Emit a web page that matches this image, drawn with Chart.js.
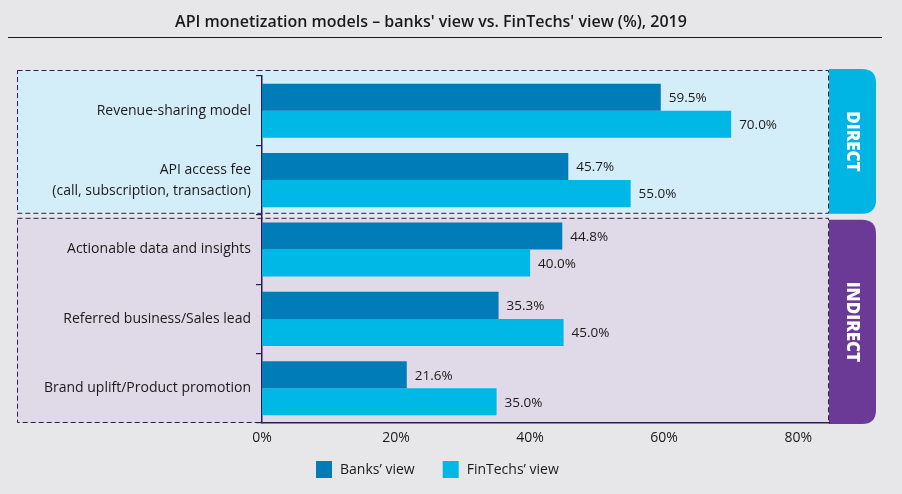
<!DOCTYPE html>
<html>
<head>
<meta charset="utf-8">
<script src="https://cdn.jsdelivr.net/npm/chart.js@4/dist/chart.umd.min.js"></script>
<style>
  html, body { margin: 0; padding: 0; background: #e7e7e9; }
  #wrap { width: 902px; height: 494px; position: relative; }
</style>
</head>
<body>
<div id="wrap"><canvas id="c" width="902" height="494"></canvas></div>
<script>
const categories = [
  "Revenue-sharing model",
  ["API access fee", "(call, subscription, transaction)"],
  "Actionable data and insights",
  "Referred business/Sales lead",
  "Brand uplift/Product promotion"
];
const banksView = [59.5, 45.7, 44.8, 35.3, 21.6];
const fintechsView = [70.0, 55.0, 40.0, 45.0, 35.0];
const seriesNames = ["Banks\u2019 view", "FinTechs\u2019 view"];
const xTicks = [0, 20, 40, 60, 80];
const groups = [
  { name: "DIRECT", from: 0, to: 1 },
  { name: "INDIRECT", from: 2, to: 4 }
];
const titleText = "API monetization models \u2013 banks' view vs. FinTechs' view (%), 2019";

const FONT = "'Open Sans', 'Noto Sans', sans-serif";
const C_DARK = "#007db8";
const C_CYAN = "#00b8e6";
const C_PANEL = ["#d4eef9", "#dfd9e8"];
const C_TAB = ["#00b4e3", "#6b3a96"];
const C_LINE = "#2e1c4e";

function roundRightRect(ctx, x, y, w, h, r) {
  ctx.beginPath();
  ctx.moveTo(x, y);
  ctx.lineTo(x + w - r, y);
  ctx.quadraticCurveTo(x + w, y, x + w, y + r);
  ctx.lineTo(x + w, y + h - r);
  ctx.quadraticCurveTo(x + w, y + h, x + w - r, y + h);
  ctx.lineTo(x, y + h);
  ctx.closePath();
}

const decor = {
  id: "decor",
  beforeDraw(chart) {
    const ctx = chart.ctx;
    const ys = chart.scales.y;
    const area = chart.chartArea;
    ctx.save();
    ctx.fillStyle = "#e7e7e9";
    ctx.fillRect(0, 0, chart.width, chart.height);
    // title
    ctx.fillStyle = "#1a1a1a";
    ctx.font = "600 16px " + FONT;
    ctx.textAlign = "center";
    ctx.textBaseline = "middle";
    ctx.fillText(titleText, 431, 22);
    ctx.strokeStyle = "#1a1a1a";
    ctx.lineWidth = 1.2;
    ctx.beginPath(); ctx.moveTo(8, 37.5); ctx.lineTo(882, 37.5); ctx.stroke();
    // panels
    const step = (ys.getPixelForValue(1) - ys.getPixelForValue(0));
    groups.forEach((g, i) => {
      let top = ys.getPixelForValue(g.from) - step / 2;
      let bot = ys.getPixelForValue(g.to) + step / 2;
      if (i === 0) { top -= 6; bot -= 1; } else { top += 3; }
      const left = 17, right = area.right;
      ctx.fillStyle = C_PANEL[i];
      ctx.fillRect(left, top, right - left, bot - top);
      ctx.setLineDash([5, 3]);
      ctx.strokeStyle = C_LINE;
      ctx.lineWidth = 1;
      ctx.strokeRect(left + 0.5, top + 0.5, right - left - 1, bot - top - 1);
      ctx.setLineDash([]);
      // tab
      const tTop = i === 0 ? top - 1 : top + 2;
      const tBot = i === 0 ? bot : bot + 1;
      ctx.fillStyle = C_TAB[i];
      roundRightRect(ctx, right, tTop, 47, tBot - tTop, 14);
      ctx.fill();
      ctx.save();
      ctx.translate(right + 23, (tTop + tBot) / 2);
      ctx.rotate(Math.PI / 2);
      ctx.fillStyle = "#ffffff";
      ctx.font = "800 17px " + FONT;
      ctx.textAlign = "center";
      ctx.textBaseline = "middle";
      ctx.fillText(g.name, 0, 0);
      ctx.restore();
    });
    ctx.restore();
  },
  afterDatasetsDraw(chart) {
    const ctx = chart.ctx;
    ctx.save();
    ctx.font = "13.5px " + FONT;
    ctx.fillStyle = "#1a1a1a";
    ctx.textAlign = "left";
    ctx.textBaseline = "middle";
    chart.data.datasets.forEach((ds, di) => {
      const meta = chart.getDatasetMeta(di);
      meta.data.forEach((bar, i) => {
        ctx.fillText(ds.data[i].toFixed(1) + "%", bar.x + 8, bar.y + 1);
      });
    });
    // legend
    const items = chart.data.datasets;
    ctx.font = "14px " + FONT;
    let x = 316;
    const y = 469;
    items.forEach((ds) => {
      ctx.fillStyle = ds.backgroundColor;
      ctx.fillRect(x, y - 8, 16, 17);
      ctx.fillStyle = "#1a1a1a";
      ctx.fillText(ds.label, x + 24, y + 1);
      x += 24 + ctx.measureText(ds.label).width + 28;
    });
    ctx.restore();
  }
};

new Chart(document.getElementById("c"), {
  type: "bar",
  data: {
    labels: categories,
    datasets: [
      { label: seriesNames[0], data: banksView, backgroundColor: C_DARK, categoryPercentage: 0.78, barPercentage: 1.0 },
      { label: seriesNames[1], data: fintechsView, backgroundColor: C_CYAN, categoryPercentage: 0.78, barPercentage: 1.0 }
    ]
  },
  options: {
    indexAxis: "y",
    responsive: false,
    animation: false,
    devicePixelRatio: 1,
    layout: { padding: { left: 0, right: 73, top: 76, bottom: 0 } },
    plugins: { legend: { display: false }, title: { display: false }, tooltip: { enabled: false } },
    scales: {
      x: {
        min: 0, max: 84.6,
        afterBuildTicks: (s) => { s.ticks = xTicks.map(v => ({ value: v })); },
        afterFit: (s) => { s.height = 71; },
        grid: { display: false, drawTicks: false },
        border: { display: true, color: C_LINE, width: 1.5 },
        ticks: { padding: 7, color: "#1a1a1a", font: { family: FONT, size: 14 }, callback: (v) => v + "%" }
      },
      y: {
        afterFit: (s) => { s.width = 262; },
        grid: { offset: true, drawOnChartArea: false, drawTicks: true, tickLength: 6, color: C_LINE, lineWidth: 1.2 },
        border: { display: true, color: C_LINE, width: 1.5 },
        ticks: { padding: 5, color: "#1a1a1a", font: { family: FONT, size: 14, lineHeight: 1.5 } }
      }
    }
  },
  plugins: [decor]
});
</script>
</body>
</html>
